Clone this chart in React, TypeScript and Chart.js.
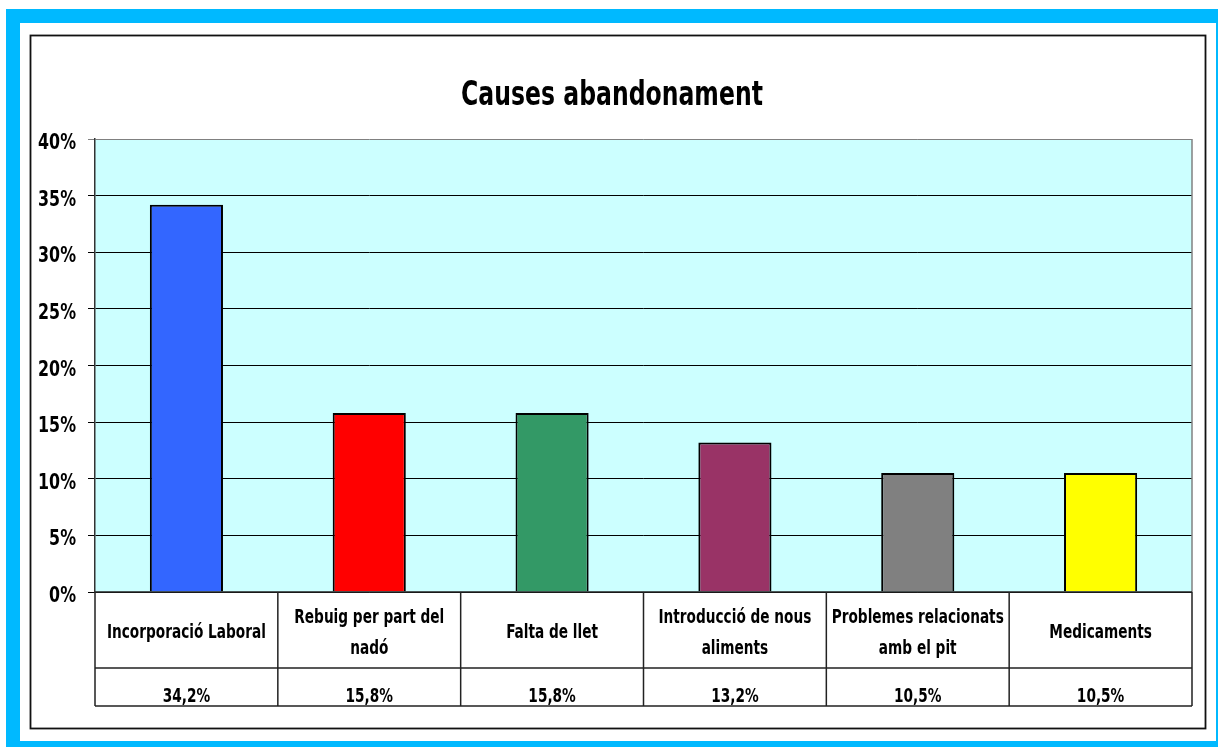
import React, { useEffect, useRef } from "react";
import { Chart, registerables } from "chart.js";

Chart.register(...registerables);

const categories: string[][] = [
  ["Incorporació Laboral"],
  ["Rebuig per part del", "nadó"],
  ["Falta de llet"],
  ["Introducció de nous", "aliments"],
  ["Problemes relacionats", "amb el pit"],
  ["Medicaments"],
];
const values: number[] = [34.2, 15.8, 15.8, 13.2, 10.5, 10.5];
const barColors: string[] = ["#3366FF", "#FF0000", "#339966", "#993366", "#808080", "#FFFF00"];
const titleText = "Causes abandonament";
const yMax = 40;
const yStep = 5;

const FONT = "'DejaVu Sans Condensed', 'DejaVu Sans', sans-serif";

const fmt = (v: number) => v.toFixed(1).replace(".", ",") + "%";

// Draws condensed bold text by squeezing the glyphs horizontally.
function drawText(ctx: CanvasRenderingContext2D, text: string, x: number, y: number, size: number, sx: number, align: CanvasTextAlign) {
  ctx.save();
  ctx.translate(x, y);
  ctx.scale(sx, 1);
  ctx.font = `bold ${size}px ${FONT}`;
  ctx.textAlign = align;
  ctx.textBaseline = "alphabetic";
  ctx.fillStyle = "#000000";
  ctx.fillText(text, 0, 0);
  ctx.restore();
}

const framePlugin = {
  id: "frame",
  beforeDraw(chart: any) {
    const { ctx, width, height, chartArea } = chart;
    ctx.save();
    ctx.fillStyle = "#FFFFFF";
    ctx.fillRect(0, 0, width, height);
    ctx.fillStyle = "#00B9FF";
    ctx.fillRect(6, 9, width - 6, height - 9);
    ctx.fillStyle = "#FFFFFF";
    ctx.fillRect(20, 23, width - 22, height - 29);
    ctx.strokeStyle = "#111111";
    ctx.lineWidth = 1.8;
    ctx.strokeRect(30.5, 35.5, 1175, 693);
    // plot area fill
    ctx.fillStyle = "#CCFFFF";
    ctx.fillRect(chartArea.left, chartArea.top, chartArea.right - chartArea.left, chartArea.bottom - chartArea.top);
    ctx.restore();
    // title
    drawText(ctx, titleText, 612, 105, 34, 0.77, "center");
  },
  afterDraw(chart: any) {
    const { ctx, chartArea } = chart;
    const x = chart.scales.x;
    const y = chart.scales.y;
    const n = categories.length;
    const colW = (chartArea.right - chartArea.left) / n;
    const top = chartArea.bottom;
    const mid = top + 76;
    const bottom = top + 114;
    ctx.save();
    // plot area right border
    ctx.strokeStyle = "#808080";
    ctx.lineWidth = 1.5;
    ctx.beginPath();
    ctx.moveTo(chartArea.right, chartArea.top);
    ctx.lineTo(chartArea.right, chartArea.bottom);
    ctx.stroke();
    // data table grid
    ctx.strokeStyle = "#222222";
    ctx.lineWidth = 1.5;
    ctx.beginPath();
    [top, mid, bottom].forEach((yy) => {
      ctx.moveTo(chartArea.left, yy);
      ctx.lineTo(chartArea.right, yy);
    });
    for (let i = 0; i <= n; i++) {
      const xx = chartArea.left + i * colW;
      ctx.moveTo(xx, top);
      ctx.lineTo(xx, bottom);
    }
    ctx.stroke();
    ctx.restore();
    // y axis labels
    y.ticks.forEach((t: any) => {
      const py = y.getPixelForValue(t.value);
      drawText(ctx, `${t.value}%`, 76, py + 10, 22, 0.8, "right");
    });
    // table text
    categories.forEach((lines, i) => {
      const cx = x.getPixelForValue(i);
      if (lines.length === 1) {
        drawText(ctx, lines[0], cx, top + 46, 20, 0.76, "center");
      } else {
        lines.forEach((ln, j) => drawText(ctx, ln, cx, top + 31 + j * 31, 20, 0.76, "center"));
      }
      drawText(ctx, fmt(values[i]), cx, mid + 34, 20, 0.76, "center");
    });
  },
};

export default function App() {
  const ref = useRef<HTMLCanvasElement>(null);
  useEffect(() => {
    document.body.style.margin = "0";
    const chart = new Chart(ref.current!, {
      type: "bar",
      data: {
        labels: categories.map((c) => c.join(" ")),
        datasets: [
          {
            data: values,
            backgroundColor: barColors,
            borderColor: "#000000",
            borderWidth: 2,
            borderSkipped: "bottom",
            barPercentage: 0.4,
            categoryPercentage: 1,
          },
        ],
      },
      options: {
        animation: false,
        responsive: false,
        events: [],
        layout: { padding: { left: 0, top: 139, right: 26, bottom: 155 } },
        plugins: { legend: { display: false }, tooltip: { enabled: false }, title: { display: false } },
        scales: {
          x: {
            ticks: { display: false },
            grid: { display: false, drawTicks: false },
            border: { display: false },
            afterFit: (s: any) => {
              s.height = 0;
            },
          },
          y: {
            min: 0,
            max: yMax,
            ticks: {
              stepSize: yStep,
              display: false,
            },
            grid: {
              color: (c: any) => (c.tick && c.tick.value === yMax ? "#808080" : "#000000"),
              lineWidth: 1,
              tickLength: 7,
            },
            border: { color: "#333333", width: 1.5 },
            afterFit: (s: any) => {
              s.width = 95;
            },
          },
        },
      },
      plugins: [framePlugin],
    });
    return () => chart.destroy();
  }, []);
  return (
    <div style={{ position: "absolute", left: 0, top: 0, width: 1218, height: 747 }}>
      <canvas ref={ref} width={1218} height={747} />
    </div>
  );
}
